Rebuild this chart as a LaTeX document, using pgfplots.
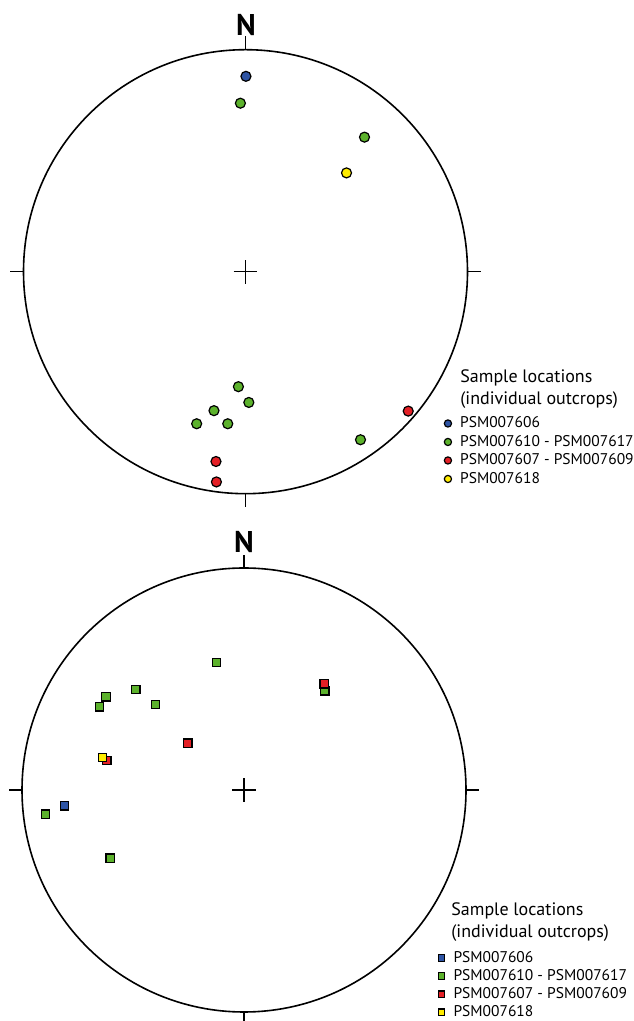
\documentclass[border=0pt]{standalone}
\usepackage{pgfplots}
\pgfplotsset{compat=1.18}
\usepackage{fontspec}
\setmainfont{PT Sans}
\definecolor{cblue}{RGB}{46,84,164}
\definecolor{cgreen}{RGB}{92,178,44}
\definecolor{cred}{RGB}{228,32,38}
\definecolor{cyellow}{RGB}{255,236,0}
\pgfplotsset{
  stereo/.style={
    hide axis, anchor=origin, x=111pt, y=111pt,
    xmin=-1.15, xmax=1.15, ymin=-1.15, ymax=1.15, clip=false,
    legend style={draw=none, fill=none, font=\fontsize{7.75}{9}\selectfont,
      inner sep=0pt, row sep=1.05pt,
      nodes={inner sep=0.6pt, text height=5.6pt, text depth=1.4pt}},
    legend cell align=left,
  },
  circ/.style={only marks, mark=*, mark size=2.5pt, mark options={draw=black, line width=0.6pt, fill=#1}},
  sq/.style={only marks, mark=square*, mark size=2.1pt, mark options={draw=black, line width=0.6pt, fill=#1}},
}
\newcommand{\netframe}{%
  \draw[line width=0.8pt] (axis cs:0,0) circle[radius=111pt];
  \draw[line width=0.6pt] (axis cs:0,1) -- (axis cs:0,1.06);
  \draw[line width=0.6pt] (axis cs:0,-1) -- (axis cs:0,-1.06);
  \draw[line width=0.6pt] (axis cs:1,0) -- (axis cs:1.06,0);
  \draw[line width=0.6pt] (axis cs:-1,0) -- (axis cs:-1.06,0);
  \draw[line width=0.6pt] (axis cs:-0.054,0) -- (axis cs:0.054,0);
  \draw[line width=0.6pt] (axis cs:0,-0.054) -- (axis cs:0,0.054);
}
\begin{document}
\begin{tikzpicture}
\path[use as bounding box] (0pt,0pt) rectangle (316.5pt,510.5pt);
% ---------- top net (circles)
\begin{axis}[stereo, at={(122.75pt,374.65pt)},
  legend style={at={(axis cs:0.892,-0.645)}, anchor=north west},
  legend image code/.code={\path[draw=none] (-2pt,0pt) -- (5.5pt,0pt);\draw[#1, mark size=1.8pt] plot coordinates {(0pt,0pt)};}]
\netframe
\addplot[circ=cblue] coordinates {(0.002,0.880)};
\addlegendentry{PSM007606}
\addplot[circ=cgreen] coordinates {
 (-0.023,0.759) (0.536,0.606) (-0.032,-0.518) (0.015,-0.589)
 (-0.142,-0.626) (-0.220,-0.685) (-0.080,-0.685) (0.518,-0.757)};
\addlegendentry{PSM007610 - PSM007617}
\addplot[circ=cred] coordinates {(0.733,-0.628) (-0.133,-0.855) (-0.131,-0.947)};
\addlegendentry{PSM007607 - PSM007609}
\addplot[circ=cyellow] coordinates {(0.455,0.445)};
\addlegendentry{PSM007618}
\end{axis}
% ---------- bottom net (squares)
\begin{axis}[stereo, at={(122pt,115.5pt)},
  legend style={at={(axis cs:0.869,-0.718)}, anchor=north west, row sep=0.85pt},
  legend image code/.code={\path[draw=none] (-2pt,0pt) -- (5.5pt,0pt);\draw[#1, mark size=1.6pt] plot coordinates {(0pt,0pt)};}]
\netframe
\addplot[sq=cblue] coordinates {(-0.808,-0.071)};
\addlegendentry{PSM007606}
\addplot[sq=cgreen] coordinates {
 (-0.123,0.574) (0.364,0.447) (-0.622,0.420) (-0.487,0.453)
 (-0.651,0.375) (-0.399,0.385) (-0.894,-0.109) (-0.603,-0.307)};
\addlegendentry{PSM007610 - PSM007617}
\addplot[sq=cred] coordinates {(0.361,0.478) (-0.253,0.211) (-0.618,0.132)};
\addlegendentry{PSM007607 - PSM007609}
\addplot[sq=cyellow] coordinates {(-0.637,0.147)};
\addlegendentry{PSM007618}
\end{axis}
% ---------- labels
\node[font=\fontsize{15}{15}\selectfont\bfseries, inner sep=0pt] at (123pt,497.75pt) {N};
\node[font=\fontsize{15}{15}\selectfont\bfseries, inner sep=0pt] at (122pt,239.25pt) {N};
\node[anchor=base west, inner sep=0pt, font=\fontsize{9}{11}\selectfont] at (230pt,319pt) {Sample locations};
\node[anchor=base west, inner sep=0pt, font=\fontsize{9}{11}\selectfont] at (230pt,308pt) {(individual outcrops)};
\node[anchor=base west, inner sep=0pt, font=\fontsize{9}{11}\selectfont] at (225.5pt,52.5pt) {Sample locations};
\node[anchor=base west, inner sep=0pt, font=\fontsize{9}{11}\selectfont] at (225.5pt,41.5pt) {(individual outcrops)};
\end{tikzpicture}
\end{document}
